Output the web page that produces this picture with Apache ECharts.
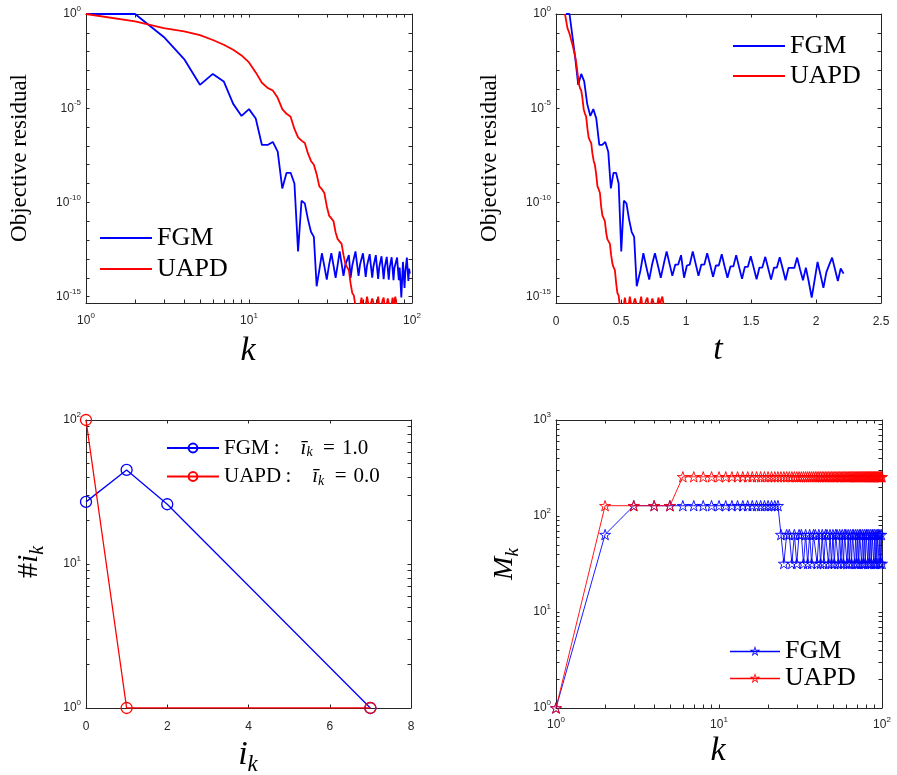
<!DOCTYPE html>
<html><head><meta charset="utf-8">
<script src="https://cdn.jsdelivr.net/npm/echarts@6/dist/echarts.min.js"></script>
<style>html,body{margin:0;padding:0;background:#fff}#c{width:897px;height:775px}</style>
</head><body><div id="c"></div>
<script>
// ---------- DATA ----------
// Panel 1 & 2: objective residual (log10 exponents) per iteration, and elapsed time
const fgmResidualExp = [0, 0, -1.22, -2.39, -3.76, -3.18, -3.58, -4.77, -5.41, -5.05,
 -5.55, -6.95, -6.95, -6.79, -7.31, -9.26, -8.43, -8.43, -9.0, -12.6,
 -9.91, -10.05, -10.9, -11.56, -11.83, -14.45, -13.6, -12.7, -13.4, -14.1,
 -13.3, -12.7, -13.35, -14.0, -13.3, -12.6, -13.25, -13.9, -13.3, -13.3,
 -12.8, -14.0, -13.35, -13.3, -12.6, -13.25, -13.9, -13.3, -13.3, -12.7,
 -13.3, -13.95, -13.35, -13.35, -12.75, -13.4, -14.0, -13.4, -13.4, -12.8,
 -13.45, -14.06, -13.42, -13.42, -12.86, -13.45, -14.08, -13.46, -13.46, -12.89,
 -13.5, -14.1, -13.46, -13.46, -12.91, -13.5, -14.13, -13.48, -13.48, -13.48,
 -12.93, -13.55, -14.13, -13.46, -14.2, -15.05, -14.1, -13.16, -13.85, -14.54,
 -13.7, -13.3, -12.93, -13.55, -14.17, -13.51, -13.78];
const fgmTime = [0.077, 0.104, 0.127, 0.149, 0.171, 0.194, 0.217, 0.240, 0.264, 0.287,
 0.310, 0.333, 0.356, 0.379, 0.402, 0.422, 0.442, 0.462, 0.482, 0.502,
 0.522, 0.542, 0.562, 0.582, 0.601, 0.621, 0.650, 0.672, 0.694, 0.717,
 0.739, 0.761, 0.784, 0.806, 0.828, 0.851, 0.873, 0.895, 0.918, 0.940,
 0.962, 0.985, 1.007, 1.029, 1.052, 1.074, 1.096, 1.118, 1.141, 1.163,
 1.185, 1.208, 1.230, 1.252, 1.275, 1.297, 1.319, 1.342, 1.364, 1.386,
 1.409, 1.431, 1.453, 1.476, 1.498, 1.520, 1.543, 1.565, 1.587, 1.610,
 1.632, 1.654, 1.677, 1.699, 1.721, 1.743, 1.766, 1.788, 1.810, 1.833,
 1.855, 1.877, 1.900, 1.922, 1.944, 1.967, 1.990, 2.012, 2.035, 2.057,
 2.080, 2.102, 2.124, 2.146, 2.168, 2.190, 2.212];
const uapdResidualExp = [0, -0.39, -0.75, -0.92, -1.12, -1.38, -1.63, -1.9, -2.2, -2.57,
 -3.1, -3.65, -3.92, -4.06, -4.45, -5.05, -5.3, -5.45, -6.1, -6.55,
 -6.72, -6.85, -7.4, -7.8, -8.0, -8.5, -9.15, -9.3, -9.5, -10.2,
 -10.7, -10.85, -11.0, -11.6, -11.95, -12.05, -12.2, -12.8, -13.25, -13.45,
 -13.6, -14.3, -14.8, -14.95, -15.5, -15.7, -15.6, -15.5, -15.05, -15.5,
 -15.6, -15.45, -15.0, -15.4, -15.6, -15.5, -15.1, -15.2, -15.55, -15.6,
 -15.4, -15.0, -15.5, -15.6, -15.45, -15.2, -15.05, -15.5, -15.6, -15.4,
 -15.1, -15.0, -15.55, -15.6, -15.4, -15.05, -15.5, -15.2, -15.0, -15.4];
const uapdTime = [0.069, 0.079, 0.088, 0.098, 0.107, 0.117, 0.127, 0.136, 0.146, 0.155,
 0.165, 0.175, 0.184, 0.194, 0.203, 0.213, 0.223, 0.232, 0.242, 0.251,
 0.261, 0.271, 0.280, 0.290, 0.299, 0.309, 0.319, 0.328, 0.338, 0.347,
 0.357, 0.367, 0.376, 0.386, 0.395, 0.405, 0.415, 0.424, 0.434, 0.443,
 0.453, 0.463, 0.472, 0.482, 0.491, 0.501, 0.511, 0.520, 0.530, 0.539,
 0.549, 0.559, 0.568, 0.578, 0.587, 0.597, 0.607, 0.616, 0.626, 0.635,
 0.645, 0.655, 0.664, 0.674, 0.683, 0.693, 0.703, 0.712, 0.722, 0.731,
 0.741, 0.751, 0.760, 0.770, 0.779, 0.789, 0.799, 0.808, 0.818, 0.827];

// Panel 3: histogram of i_k
const fgmIk = [0, 1, 2, 7];
const fgmIkCount = [27, 45, 26, 1];
const uapdIk = [0, 1, 7];
const uapdIkCount = [100, 1, 1];

// Panel 4: M_k per iteration k = 1..100
const fgmMk = [1, 64,
 128,128,128,128,128,128,128,128,128,128,128,128,128,128,128,128,128,128,128,128,128,
 64,
 32,64,64,32,64,32,64,64,32,64,
 32,64,32,64,64,32,64,32,64,32,
 64,64,32,64,32,64,32,64,64,32,
 64,32,64,32,64,64,32,64,32,64,
 32,64,64,32,64,32,64,32,64,64,
 32,64,32,64,32,64,64,32,64,32,
 64,32,64,64,32,64,32,64,32,64,
 64,32,64,32,64,32];
const uapdMk = [1, 128,128,128,128,
 256,256,256,256,256,256,256,256,256,256,256,256,256,256,256,256,256,256,256,
 256,256,256,256,256,256,256,256,256,256,256,256,256,256,256,256,256,256,256,
 256,256,256,256,256,256,256,256,256,256,256,256,256,256,256,256,256,256,256,
 256,256,256,256,256,256,256,256,256,256,256,256,256,256,256,256,256,256,256,
 256,256,256,256,256,256,256,256,256,256,256,256,256,256,256,256,256,256,256];

// tick values / tick labels
const residualTicks = [1,1e-1,1e-2,1e-3,1e-4,1e-5,1e-6,1e-7,1e-8,1e-9,1e-10,1e-11,1e-12,1e-13,1e-14,1e-15];
const residualLabels = [1, 1e-5, 1e-10, 1e-15];
const log2Ticks = [1,2,3,4,5,6,7,8,9,10,20,30,40,50,60,70,80,90,100];
const log2Labels = [1, 10, 100];
const log3Ticks = [1,2,3,4,5,6,7,8,9,10,20,30,40,50,60,70,80,90,100,200,300,400,500,600,700,800,900,1000];
const log3Labels = [1, 10, 100, 1000];

// ---------- CHART ----------
const SANS = "'Liberation Sans', Arial, sans-serif";
const SERIF = "'Liberation Serif', 'Times New Roman', serif";
const AX = '#262626';
const BLUE = '#0000ff', RED = '#ff0000';
const pow = e => Math.pow(10, e);
const iter = arr => arr.map((_, i) => i + 1);

function powFmt(v){ const e = Math.round(Math.log10(v)); return '{b|10}{s|' + e + '}'; }
const powRich = { b:{fontSize:12,fontFamily:SANS,color:AX}, s:{fontSize:8,fontFamily:SANS,color:AX,padding:[0,0,10,0]} };

function mkAxis(o){
  const a = {
    gridIndex: o.g, type: o.type, position: o.pos, min: o.min, max: o.max,
    axisLine: {show:true, onZero:false, lineStyle:{color:AX, width:1}},
    axisTick: {show:true, inside:true, length:3.5, lineStyle:{color:AX, width:1}},
    splitLine: {show:false},
    axisLabel: {show:false}
  };
  if (o.type === 'log') { a.logBase = 10; a.axisTick.customValues = o.ticks; }
  else { a.interval = o.interval; }
  if (o.labels) {
    a.axisLabel = {show:true, margin:o.margin, color:AX, fontFamily:SANS, fontSize:12,
      showMinLabel:true, showMaxLabel:true, hideOverlap:false};
    if (o.type === 'log') { a.axisLabel.customValues = o.labelValues; a.axisLabel.formatter = powFmt; a.axisLabel.rich = powRich; }
  }
  return a;
}

const grids = [
  {left:86, top:14, width:326, height:289},
  {left:556, top:14, width:325, height:289},
  {left:86, top:420, width:325, height:288},
  {left:556, top:420, width:326, height:288}
].map(g => Object.assign(g, {containLabel:false, outerBoundsMode:'none'}));

const resMin = pow(-15.34);
const xAxes = [
  mkAxis({g:0,type:'log',pos:'bottom',min:1,max:100,ticks:log2Ticks,labels:true,labelValues:log2Labels,margin:9}),
  mkAxis({g:0,type:'log',pos:'top',min:1,max:100,ticks:log2Ticks}),
  mkAxis({g:1,type:'value',pos:'bottom',min:0,max:2.5,interval:0.5,labels:true,margin:13}),
  mkAxis({g:1,type:'value',pos:'top',min:0,max:2.5,interval:0.5}),
  mkAxis({g:2,type:'value',pos:'bottom',min:0,max:8,interval:2,labels:true,margin:13}),
  mkAxis({g:2,type:'value',pos:'top',min:0,max:8,interval:2}),
  mkAxis({g:3,type:'log',pos:'bottom',min:1,max:100,ticks:log2Ticks,labels:true,labelValues:log2Labels,margin:8}),
  mkAxis({g:3,type:'log',pos:'top',min:1,max:100,ticks:log2Ticks})
];
const yAxes = [
  mkAxis({g:0,type:'log',pos:'left',min:resMin,max:1,ticks:residualTicks,labels:true,labelValues:residualLabels,margin:5}),
  mkAxis({g:0,type:'log',pos:'right',min:resMin,max:1,ticks:residualTicks}),
  mkAxis({g:1,type:'log',pos:'left',min:resMin,max:1,ticks:residualTicks,labels:true,labelValues:residualLabels,margin:5}),
  mkAxis({g:1,type:'log',pos:'right',min:resMin,max:1,ticks:residualTicks}),
  mkAxis({g:2,type:'log',pos:'left',min:1,max:100,ticks:log2Ticks,labels:true,labelValues:log2Labels,margin:5}),
  mkAxis({g:2,type:'log',pos:'right',min:1,max:100,ticks:log2Ticks}),
  mkAxis({g:3,type:'log',pos:'left',min:1,max:1000,ticks:log3Ticks,labels:true,labelValues:log3Labels,margin:5}),
  mkAxis({g:3,type:'log',pos:'right',min:1,max:1000,ticks:log3Ticks})
];

const STAR = 'path://M100,0 L122.45,69.1 L195.1,69.1 L136.3,111.8 L158.8,180.9 L100,138.2 L41.2,180.9 L63.7,111.8 L4.9,69.1 L77.55,69.1 Z';
// legend icon: a line with an outlined star in the middle (outer star + reversed inner star = ring)
const STAR_LINE = 'path://M0,53 L500,53 L500,66 L0,66 Z ' +
  'M250,5 L262.35,43 L302.3,43 L269.97,66.49 L282.3,104.5 L250,81 L217.7,104.5 L230.03,66.49 L197.7,43 L237.65,43 Z ' +
  'M250,30.85 L243.46,50.99 L222.28,50.99 L239.41,63.44 L232.87,83.58 L250,71.13 L267.13,83.58 L260.59,63.44 L277.72,50.99 L256.54,50.99 Z';
const NOFILL = 'rgba(255,255,255,0)';
const zip = (xs, ys) => xs.map((x, i) => [x, ys[i]]);

function lineSeries(name, xi, yi, data, color, width, extra){
  return Object.assign({
    type:'line', name, xAxisIndex:xi, yAxisIndex:yi, data,
    symbol:'none', showSymbol:false, clip:true, animation:false,
    lineStyle:{color, width}, itemStyle:{color}
  }, extra || {});
}

const series = [
  lineSeries('FGM', 0, 0, zip(iter(fgmResidualExp), fgmResidualExp.map(pow)), BLUE, 1.8),
  lineSeries('UAPD', 0, 0, zip(iter(uapdResidualExp), uapdResidualExp.map(pow)), RED, 1.8),
  lineSeries('FGM', 2, 2, zip(fgmTime, fgmResidualExp.map(pow)), BLUE, 1.8),
  lineSeries('UAPD', 2, 2, zip(uapdTime, uapdResidualExp.map(pow)), RED, 1.8),
  lineSeries('FGM_i', 4, 4, zip(fgmIk, fgmIkCount), BLUE, 1.3, {
    symbol:'circle', showSymbol:true, symbolSize:11,
    itemStyle:{color:NOFILL, borderColor:BLUE, borderWidth:1.3}}),
  lineSeries('UAPD_i', 4, 4, zip(uapdIk, uapdIkCount), RED, 1.3, {
    symbol:'circle', showSymbol:true, symbolSize:11,
    itemStyle:{color:NOFILL, borderColor:RED, borderWidth:1.3}}),
  lineSeries('FGM_M', 6, 6, zip(iter(fgmMk), fgmMk), BLUE, 0.9, {
    symbol:STAR, showSymbol:true, showAllSymbol:true, symbolSize:11, symbolKeepAspect:true,
    itemStyle:{color:NOFILL, borderColor:BLUE, borderWidth:0.9}}),
  lineSeries('UAPD_M', 6, 6, zip(iter(uapdMk), uapdMk), RED, 0.9, {
    symbol:STAR, showSymbol:true, showAllSymbol:true, symbolSize:11, symbolKeepAspect:true,
    itemStyle:{color:NOFILL, borderColor:RED, borderWidth:0.9}})
];

const legendBase = {orient:'vertical', padding:0, selectedMode:false, itemWidth:52, itemHeight:14,
  textStyle:{fontFamily:SERIF, fontSize:26, color:'#000', lineHeight:26}};
const iconItem = (name, icon, color) => ({name, icon, itemStyle:{color, borderWidth:0, opacity:1}});
const legends = [
  Object.assign({}, legendBase, {data:[iconItem('FGM','rect',BLUE), iconItem('UAPD','rect',RED)], itemHeight:2,
    left:100, top:225, itemGap:5}),
  Object.assign({}, legendBase, {data:[iconItem('FGM','rect',BLUE), iconItem('UAPD','rect',RED)], itemHeight:2,
    left:733, top:33, itemGap:4}),
  Object.assign({}, legendBase, {data:['FGM_i','UAPD_i'], left:166, top:437, itemGap:6, itemHeight:11,
    itemStyle:{color:NOFILL},
    formatter: n => n === 'FGM_i' ? '{n|FGM\u2009:\u2002\u2002}{i|ī}{s|k}{n|\u2002=\u20041.0}' : '{n|UAPD\u2009:\u2002\u2002}{i|ī}{s|k}{n|\u2002=\u20040.0}',
    textStyle:{fontFamily:SERIF, fontSize:21, color:'#000', lineHeight:22, rich:{
      n:{fontFamily:SERIF, fontSize:21, color:'#000'},
      i:{fontFamily:SERIF, fontStyle:'italic', fontSize:21, color:'#000'},
      s:{fontFamily:SERIF, fontStyle:'italic', fontSize:14, color:'#000', padding:[9,0,0,0]}}}}),
  Object.assign({}, legendBase, {data:[iconItem('FGM_M',STAR_LINE,BLUE), iconItem('UAPD_M',STAR_LINE,RED)],
    left:730, top:638, itemGap:1, itemWidth:50, itemHeight:11,
    formatter: n => n.replace('_M',''),
    textStyle:{fontFamily:SERIF, fontSize:26, color:'#000', lineHeight:26}})
];

function txt(x, y, text, font, rot, rich){
  const el = {type:'text', x, y, rotation: rot || 0, silent:true,
    style:{text, font, fill:'#000', align:'center', verticalAlign:'middle'}};
  if (rich) el.style.rich = rich;
  return el;
}
const mathRich = (sz) => ({
  n:{fontFamily:SERIF, fontSize:sz, fill:'#000', color:'#000'},
  i:{fontFamily:SERIF, fontStyle:'italic', fontSize:sz, fill:'#000', color:'#000'},
  s:{fontFamily:SERIF, fontStyle:'italic', fontSize:Math.round(sz*0.68), fill:'#000', color:'#000', padding:[Math.round(sz*0.55),0,0,0]}
});

const graphics = [
  txt(20, 158, 'Objective residual', '23px ' + SERIF, Math.PI/2),
  txt(490, 158, 'Objective residual', '23px ' + SERIF, Math.PI/2),
  txt(248, 351, 'k', 'italic 34px ' + SERIF),
  txt(718, 350, 't', 'italic 34px ' + SERIF),
  txt(29, 562, '{n|#}{i|i}{s|k}', '30px ' + SERIF, Math.PI/2, mathRich(30)),
  txt(248, 755, '{i|i}{s|k}', '34px ' + SERIF, 0, mathRich(34)),
  txt(505, 564, '{i|M}{s|k}', '28px ' + SERIF, Math.PI/2, mathRich(28)),
  txt(718, 751, 'k', 'italic 34px ' + SERIF)
];

const chart = echarts.init(document.getElementById('c'), null, {renderer:'canvas'});
chart.setOption({
  animation:false,
  backgroundColor:'#ffffff',
  textStyle:{fontFamily:SANS},
  grid: grids,
  xAxis: xAxes,
  yAxis: yAxes,
  legend: legends,
  series: series,
  graphic: {elements: graphics}
});
</script></body></html>
